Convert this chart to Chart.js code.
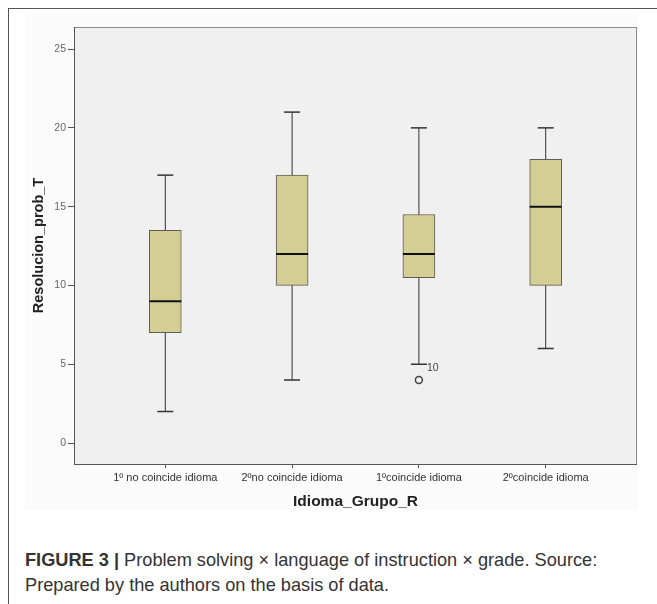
<!DOCTYPE html>
<html lang="es">
<head>
  <meta charset="UTF-8" />
  <title>Resolucion_prob_T por Idioma_Grupo_R</title>
  <script src="https://cdn.jsdelivr.net/npm/chart.js"></script>
  <style>
    body {
      margin: 0;
      width: 657px;
      height: 604px;
      overflow: hidden;
      background: #fff;
      font-family: "Liberation Sans", Arial, sans-serif;
      position: relative;
    }
    /* frame of the figure (only left and top edges are visible) */
    .frame {
      position: absolute;
      left: 8px;
      top: 8px;
      width: 700px;
      height: 700px;
      border-left: 1px solid #555;
      border-top: 1px solid #555;
    }
    .chart-bg {
      position: absolute;
      left: 25px;
      top: 14px;
      width: 613px;
      height: 496px;
      background: #fbfbfb;
    }
    #boxChart {
      position: absolute;
      left: 0;
      top: 0;
    }
    .caption {
      position: absolute;
      left: 25px;
      top: 548px;
      font-size: 18.2px;
      line-height: 25px;
      color: #333;
      white-space: nowrap;
    }
    .caption b { font-weight: bold; }
  </style>
</head>
<body>
  <div class="frame"></div>
  <div class="chart-bg"></div>
  <canvas id="boxChart" width="657" height="513"></canvas>
  <div class="caption">
    <b>FIGURE 3 |</b> Problem solving × language of instruction × grade. Source:<br>
    Prepared by the authors on the basis of data.
  </div>

  <script>
    // --- data ---
    const categories = ['1º no coincide idioma', '2ºno coincide idioma', '1ºcoincide idioma', '2ºcoincide idioma'];
    const mins    = [2, 4, 5, 6];
    const q1s     = [7, 10, 10.5, 10];
    const medians = [9, 12, 12, 15];
    const q3s     = [13.5, 17, 14.5, 18];
    const maxs    = [17, 21, 20, 20];
    // outliers (category index, value, case label)
    const outlierCats   = [2];
    const outlierValues = [4];
    const outlierLabels = ['10'];
    const yTicks = [0, 5, 10, 15, 20, 25];

    // whisker segments: min -> max for each group, broken by null points
    const whiskerData = [];
    categories.forEach((c, i) => {
      whiskerData.push({ x: i, y: mins[i] }, { x: i, y: maxs[i] }, { x: i + 0.5, y: null });
    });
    const capData = [];
    categories.forEach((c, i) => {
      capData.push({ x: i, y: mins[i] }, { x: i, y: maxs[i] });
    });

    // plot area background + frame
    const plotFrame = {
      id: 'plotFrame',
      beforeDraw(chart) {
        const a = chart.chartArea, ctx = chart.ctx;
        ctx.save();
        ctx.fillStyle = '#f0f0f0';
        ctx.fillRect(a.left, a.top, a.right - a.left, a.bottom - a.top);
        ctx.restore();
      },
      afterDraw(chart) {
        const a = chart.chartArea, ctx = chart.ctx;
        ctx.save();
        ctx.strokeStyle = '#8a8a8a';
        ctx.lineWidth = 1;
        ctx.strokeRect(a.left + 0.5, a.top + 0.5, a.right - a.left - 1, a.bottom - a.top);
        ctx.strokeStyle = '#555';
        ctx.beginPath();
        ctx.moveTo(a.left + 0.5, a.top);
        ctx.lineTo(a.left + 0.5, a.bottom + 1);
        ctx.moveTo(a.left, a.bottom + 0.5);
        ctx.lineTo(a.right, a.bottom + 0.5);
        ctx.stroke();
        ctx.restore();
      }
    };

    // case labels next to outliers
    const outlierText = {
      id: 'outlierText',
      afterDatasetsDraw(chart) {
        const ctx = chart.ctx, xs = chart.scales.x, ys = chart.scales.y;
        ctx.save();
        ctx.fillStyle = '#444';
        ctx.font = '10.5px "Liberation Sans", Arial, sans-serif';
        ctx.textBaseline = 'middle';
        outlierLabels.forEach((lab, i) => {
          const px = xs.getPixelForValue(outlierCats[i]);
          const py = ys.getPixelForValue(outlierValues[i]);
          ctx.fillText(lab, px + 8, py - 12);
        });
        ctx.restore();
      }
    };

    const ctx = document.getElementById('boxChart').getContext('2d');
    new Chart(ctx, {
      type: 'bar',
      data: {
        datasets: [
          {
            type: 'line',
            label: 'whiskers',
            data: whiskerData,
            borderColor: '#333',
            borderWidth: 1,
            pointRadius: 0,
            spanGaps: false,
            order: 3
          },
          {
            label: 'box',
            data: categories.map((c, i) => ({ x: i, y: [q1s[i], q3s[i]] })),
            backgroundColor: '#d4cd94',
            borderColor: '#5e5e52',
            borderWidth: 1,
            borderSkipped: false,
            barThickness: 32,
            order: 2
          },
          {
            type: 'scatter',
            label: 'median',
            data: categories.map((c, i) => ({ x: i, y: medians[i] })),
            pointStyle: 'line',
            pointRadius: 16,
            borderColor: '#111',
            borderWidth: 2,
            order: 1
          },
          {
            type: 'scatter',
            label: 'caps',
            data: capData,
            pointStyle: 'line',
            pointRadius: 8,
            borderColor: '#333',
            borderWidth: 1.5,
            order: 1
          },
          {
            type: 'scatter',
            label: 'outliers',
            data: outlierCats.map((c, i) => ({ x: c, y: outlierValues[i] })),
            pointStyle: 'circle',
            pointRadius: 3.5,
            backgroundColor: 'rgba(0,0,0,0)',
            borderColor: '#444',
            borderWidth: 1.5,
            order: 0
          }
        ]
      },
      options: {
        responsive: false,
        devicePixelRatio: 1,
        animation: false,
        layout: { padding: { left: 27, top: 27, right: 20, bottom: 0 } },
        plugins: {
          legend: { display: false },
          tooltip: { enabled: false }
        },
        scales: {
          x: {
            type: 'linear',
            offset: false,
            min: -0.72,
            max: 3.72,
            afterBuildTicks: (scale) => { scale.ticks = categories.map((c, i) => ({ value: i })); },
            afterFit: (scale) => { scale.height = 49; },
            ticks: {
              autoSkip: false,
              maxRotation: 0,
              padding: 3,
              color: '#333',
              font: { family: '"Liberation Sans", Arial, sans-serif', size: 11 },
              callback: (v) => categories[v]
            },
            grid: { offset: false, drawOnChartArea: false, drawTicks: true, tickLength: 4, color: '#555' },
            border: { display: false },
            title: {
              display: true,
              text: 'Idioma_Grupo_R',
              color: '#222',
              padding: { top: 4, bottom: 2 },
              font: { family: '"Liberation Sans", Arial, sans-serif', size: 15.5, weight: 'bold' }
            }
          },
          y: {
            type: 'linear',
            min: -1.33,
            max: 26.4,
            afterBuildTicks: (scale) => { scale.ticks = yTicks.map(v => ({ value: v })); },
            afterFit: (scale) => { scale.width = 47; },
            ticks: {
              padding: 2,
              color: '#666',
              font: { family: '"Liberation Sans", Arial, sans-serif', size: 10.5 }
            },
            grid: { drawOnChartArea: false, drawTicks: true, tickLength: 6, color: '#555' },
            border: { display: false },
            title: {
              display: true,
              text: 'Resolucion_prob_T',
              color: '#222',
              padding: { top: 3, bottom: 3 },
              font: { family: '"Liberation Sans", Arial, sans-serif', size: 14.5, weight: 'bold' }
            }
          }
        }
      },
      plugins: [plotFrame, outlierText]
    });
  </script>
</body>
</html>
